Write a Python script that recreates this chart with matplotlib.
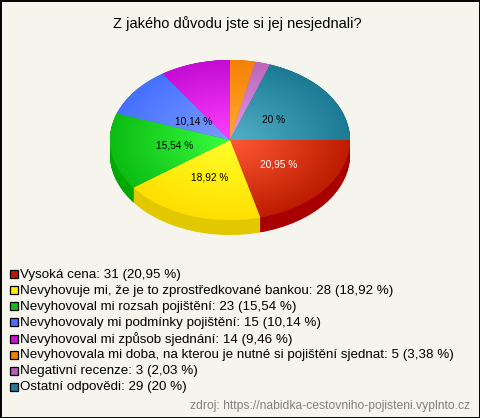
import numpy as np
import matplotlib
matplotlib.use("Agg")
import matplotlib.pyplot as plt
from matplotlib.colors import LinearSegmentedColormap
from matplotlib.patches import Rectangle

title = "Z jakého důvodu jste si jej nesjednali?"
categories = ["Vysoká cena", "Nevyhovuje mi, že je to zprostředkované bankou",
              "Nevyhovoval mi rozsah pojištění", "Nevyhovovaly mi podmínky pojištění",
              "Nevyhovoval mi způsob sjednání",
              "Nevyhovovala mi doba, na kterou je nutné si pojištění sjednat",
              "Negativní recenze", "Ostatní odpovědi"]
counts = [31, 28, 23, 15, 14, 5, 3, 29]
percent_text = ["20,95 %", "18,92 %", "15,54 %", "10,14 %", "9,46 %", "3,38 %", "2,03 %", "20 %"]
slice_labels = ["20,95 %", "18,92 %", "15,54 %", "10,14 %", "", "", "", "20 %"]
source = "zdroj: https://nabidka-cestovniho-pojisteni.vyplnto.cz"

center_cols = ["#ff5a36", "#ffff2a", "#38ff3e", "#7c9cff", "#ff40ff", "#ffaa2a", "#e29ae2", "#52b0c6"]
edge_cols = ["#bd1c00", "#ffdf00", "#0cbc14", "#4670ff", "#c40cd4", "#f58208", "#bc66bc", "#1c7a94"]
side_cols = ["#a80000", "#e2c800", "#00a800", "#3050c0", "#9000a0", "#c06000", "#905090", "#105a70"]
legend_cols = ["#c01800", "#ffee00", "#10c010", "#4a70ff", "#c810d8", "#f08000", "#b85cb8", "#207c98"]
label_cols = ["white", "black", "black", "black", "black", "black", "black", "black"]
label_dist = [0.51, 0.50, 0.47, 0.38, 0, 0, 0, 0.44]

W, H = 480, 418
BG = "#f5f5ee"
plt.rcParams["font.family"] = ["Liberation Sans", "DejaVu Sans"]
fig = plt.figure(figsize=(W / 100, H / 100), dpi=100, facecolor=BG)

page = fig.add_axes([0, 0, 1, 1])
page.set_xlim(0, W); page.set_ylim(H, 0); page.axis("off")
page.add_patch(Rectangle((0.5, 0.5), W - 1, H - 1, fc=BG, ec="black", lw=1.4))
page.text(237, 24, title, ha="center", va="center", fontsize=10.55, color="black")

# pie axes: unit ellipse maps to rx=120, ry=80 px, centre (230, 140)
RX, RY, CX, CY, DEPTH = 120, 80, 230, 140, 15
ax = fig.add_axes([(CX - 1.1 * RX) / W, 1 - (CY + 1.4 * RY) / H, 2.2 * RX / W, 2.5 * RY / H])
ax.set_xlim(-1.1, 1.1); ax.set_ylim(-1.4, 1.1); ax.axis("off"); ax.patch.set_alpha(0)

# extruded side
for k in np.linspace(DEPTH / RY, 0, DEPTH * 2):
    ax.pie(counts, colors=side_cols, startangle=0, counterclock=False, radius=1,
           center=(0, -k), frame=True, wedgeprops=dict(lw=0, antialiased=True))
ax.set_aspect("auto")

# top with radial gradient
wedges, _ = ax.pie(counts, colors=edge_cols, startangle=0, counterclock=False, radius=1,
                   center=(0, 0), frame=True, wedgeprops=dict(lw=0))
ax.set_aspect("auto")
yy, xx = np.mgrid[-1:1:300j, -1:1:400j]
rr = np.clip(np.hypot(xx, yy), 0, 1)
for w, c0, c1 in zip(wedges, center_cols, edge_cols):
    cmap = LinearSegmentedColormap.from_list("g", [c0, c1])
    im = ax.imshow(rr, extent=(-1, 1, -1, 1), origin="lower", cmap=cmap, vmin=0, vmax=1,
                   aspect="auto", interpolation="bilinear", zorder=2)
    im.set_clip_path(w)
ax.set_xlim(-1.1, 1.1); ax.set_ylim(-1.4, 1.1); ax.axis("off")

# slice labels
total = sum(counts)
cum = 0
for n, t, col, d in zip(counts, slice_labels, label_cols, label_dist):
    mid = -(cum + n / 2) / total * 2 * np.pi
    cum += n
    if t:
        ax.text(d * np.cos(mid), d * np.sin(mid), t, ha="center", va="center",
                fontsize=7.25, color=col, zorder=5)

# legend
y0, dy = 274.3, 16.05
for i, (c, n, p, col) in enumerate(zip(categories, counts, percent_text, legend_cols)):
    y = y0 + i * dy
    page.add_patch(Rectangle((9.5, y - 4), 8, 8, fc=col, ec="black", lw=0.9))
    page.text(20.3, y + 0.6, f"{c}: {n} ({p})", ha="left", va="center", fontsize=9.63, color="black")

page.text(470, 406, source, ha="right", va="center", fontsize=8.7, color="#808080")
fig.savefig("out.png", dpi=100, facecolor=BG)
